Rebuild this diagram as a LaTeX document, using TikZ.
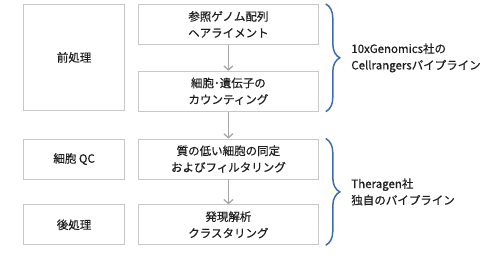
\documentclass[tikz,border=0pt]{standalone}
\usepackage{fontspec}
\setmainfont{Noto Sans CJK JP}[FakeBold=0.5]
\usetikzlibrary{positioning,calc,arrows.meta,decorations.pathreplacing}

\definecolor{boxline}{HTML}{C8C8C8}
\definecolor{arrowgray}{HTML}{A6A6A6}
\definecolor{braceblue}{HTML}{3F6CAC}
\definecolor{txt}{HTML}{1E1E1E}

\begin{document}
\begin{tikzpicture}[node distance=26pt and 13pt,
  every node/.style={align=center, text=txt, font=\fontsize{11.5}{16.5}\selectfont},
  stepbox/.style={draw=boxline, line width=0.8pt, rectangle, minimum width=180pt, minimum height=40pt, inner sep=0pt},
  sidebox/.style={draw=boxline, line width=0.8pt, rectangle, minimum width=101pt, minimum height=40pt, inner sep=0pt},
  flow/.style={draw=arrowgray, line width=1.3pt, -{Straight Barb[length=4pt,width=9pt]}},
  pipe/.style={draw=braceblue, line width=1.5pt, decorate, decoration={brace, amplitude=14pt}}]
\useasboundingbox (0,0) rectangle (500pt,-260pt);

\node (align) [stepbox, anchor=north west] at (138pt,-4pt) {参照ゲノム配列\\ヘアライメント};
\node (count) [stepbox, below=of align] {細胞･遺伝子の\\カウンティング};
\node (filter) [stepbox, below=27pt of count] {質の低い細胞の同定\\およびフィルタリング};
\node (cluster) [stepbox, below=25pt of filter] {発現解析\\クラスタリング};

\node (pre) [sidebox, minimum height=106pt, anchor=north east] at ([xshift=-13pt]align.north west) {前処理};
\node (qc) [sidebox, left=of filter] {細胞 QC};
\node (post) [sidebox, left=of cluster] {後処理};

\draw[flow] (align) -- (count);
\draw[flow] (count) -- (filter);
\draw[flow] (filter) -- (cluster);

\draw[pipe] ([xshift=7pt]align.north east) -- ([xshift=7pt]count.south east);
\draw[pipe] ([xshift=7pt]filter.north east) -- ([xshift=7pt]cluster.south east);

\node (cellranger) [anchor=west, align=left] at ($(align.north east)!0.5!(count.south east)+(29pt,0)$) {10xGenomics社の\\Cellrangersパイプライン};
\node (theragen) [anchor=west, align=left] at ($(filter.north east)!0.5!(cluster.south east)+(29pt,0)$) {Theragen社\\独自のパイプライン};
\end{tikzpicture}
\end{document}
